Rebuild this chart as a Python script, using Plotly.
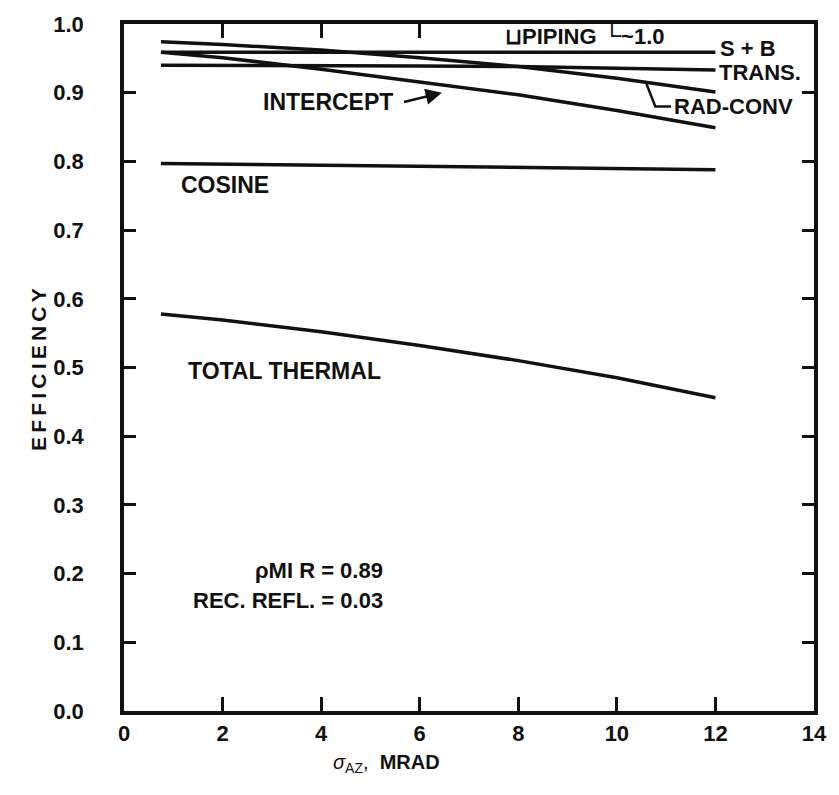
import plotly.graph_objects as go

# Azimuth tracking error (mrad) at which each efficiency was evaluated
sigma_az = [0.75, 2, 4, 6, 8, 10, 12]

# Component efficiencies
rad_conv = [0.974, 0.970, 0.962, 0.951, 0.938, 0.921, 0.901]
shade_block = [0.959, 0.959, 0.959, 0.959, 0.959, 0.959, 0.959]
trans = [0.940, 0.940, 0.939, 0.939, 0.938, 0.936, 0.933]
intercept = [0.959, 0.951, 0.934, 0.916, 0.897, 0.874, 0.849]
cosine = [0.797, 0.796, 0.795, 0.793, 0.791, 0.790, 0.788]
total_thermal = [0.578, 0.569, 0.552, 0.532, 0.510, 0.485, 0.456]

x_ticks = [0, 2, 4, 6, 8, 10, 12, 14]
y_ticks = [0.0, 0.1, 0.2, 0.3, 0.4, 0.5, 0.6, 0.7, 0.8, 0.9, 1.0]

FONT = "Liberation Sans"
INK = "#111111"

fig = go.Figure()
for name, vals in [("RAD-CONV", rad_conv), ("S + B", shade_block), ("TRANS.", trans),
                   ("INTERCEPT", intercept), ("COSINE", cosine),
                   ("TOTAL THERMAL", total_thermal)]:
    fig.add_trace(go.Scatter(x=sigma_az, y=vals, mode="lines", name=name,
                             line=dict(color=INK, width=3.5), showlegend=False))

# invisible trace to activate the secondary (top) x axis used for the top ticks
fig.add_trace(go.Scatter(x=[0, 14], y=[0, 0], xaxis="x2", mode="lines",
                         line=dict(width=0), hoverinfo="skip", showlegend=False))


def label(text, x, y, xanchor="center", size=23):
    fig.add_annotation(x=x, y=y, text=f"<b>{text}</b>", showarrow=False,
                       xanchor=xanchor, yanchor="middle",
                       font=dict(family=FONT, size=size, color=INK))


label("INTERCEPT", 4.13, 0.887)
label("COSINE", 2.05, 0.766)
label("TOTAL THERMAL", 3.26, 0.495)
label("ρMI R = 0.89", 5.30, 0.205, xanchor="right", size=22)
label("REC. REFL. = 0.03", 5.30, 0.161, xanchor="right", size=22)
label("S + B", 12.06, 0.964, xanchor="left", size=22)
label("TRANS.", 12.04, 0.929, xanchor="left", size=22)
label("RAD-CONV", 11.12, 0.880, xanchor="left", size=22)
label("⊔PIPING <span style='font-size:26px'>└</span>~1.0", 9.35, 0.984, size=22)

# arrow from the INTERCEPT label to its curve
fig.add_annotation(x=6.45, y=0.900, ax=5.65, ay=0.886, axref="x", ayref="y",
                   xref="x", yref="y", text="", showarrow=True,
                   arrowhead=2, arrowsize=1.3, arrowwidth=2.5, arrowcolor=INK)

# leader from the RAD-CONV curve to its label
fig.add_shape(type="path", xref="x", yref="y",
              path="M 10.6,0.913 L 10.78,0.880 L 11.1,0.880",
              line=dict(color=INK, width=2.5))

# x-axis caption
fig.add_annotation(xref="paper", yref="paper", x=0.38, y=-0.076,
                   xanchor="center", yanchor="middle",
                   text="<i>σ</i><sub>AZ</sub>,  <b>MRAD</b>", showarrow=False,
                   font=dict(family=FONT, size=20, color=INK))

# y-axis caption with letter spacing
fig.add_annotation(xref="paper", yref="paper", x=-0.124, y=0.497, textangle=-90,
                   xanchor="center", yanchor="middle",
                   text="<b>" + "\u2009".join("EFFICIENCY") + "</b>", showarrow=False,
                   font=dict(family=FONT, size=21, color=INK))

tickfont = dict(family=FONT, size=22, color=INK, weight="bold")

fig.update_layout(
    width=839, height=795,
    margin=dict(l=124, r=16, t=22, b=84),
    paper_bgcolor="white", plot_bgcolor="white",
    xaxis=dict(range=[0, 14], tickvals=x_ticks, ticks="inside", ticklen=14,
               tickwidth=2.5, tickcolor=INK, showline=True, linewidth=3.5,
               linecolor=INK, mirror=True, showgrid=False, zeroline=False,
               tickfont=tickfont),
    xaxis2=dict(range=[0, 14], overlaying="x", side="top", tickvals=[2, 4, 6],
                ticks="inside", ticklen=14, tickwidth=2.5, tickcolor=INK,
                showticklabels=False, showgrid=False, zeroline=False,
                showline=False),
    yaxis=dict(range=[0, 1.0], tickvals=y_ticks, tickformat=".1f",
               ticks="inside", ticklen=12, tickwidth=2.5, tickcolor=INK,
               showline=True, linewidth=3.5, linecolor=INK, mirror="ticks",
               showgrid=False, zeroline=False, tickfont=tickfont,
               ticklabelstandoff=32),
)

fig.write_html("out.html")
